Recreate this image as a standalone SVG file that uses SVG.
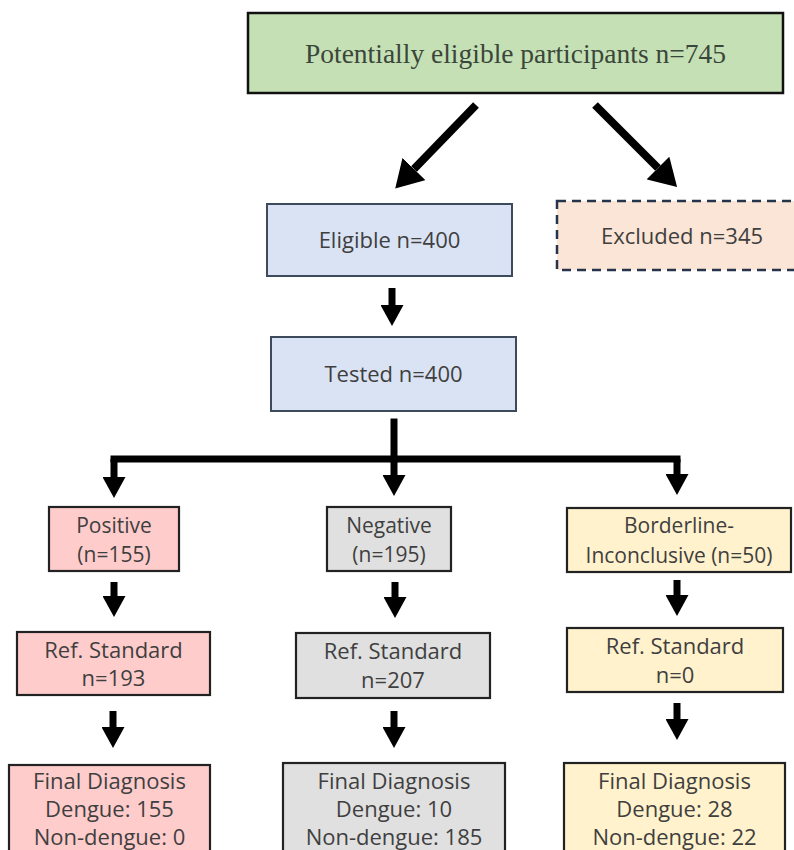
<svg xmlns="http://www.w3.org/2000/svg" width="794" height="850" viewBox="0 0 794 850">
  <style>
    .t { font-family: "Open Sans", "Liberation Sans", sans-serif; font-size: 22px; fill: #3f3f3f; text-anchor: middle; }
    .m { font-size: 21px; }
    .serif { font-family: "Liberation Serif", "Times New Roman", serif; font-size: 27.5px; fill: #3b463b; text-anchor: middle; }
    .blue { fill: #dae3f3; stroke: #3c4a5c; stroke-width: 2; }
    .excl { fill: #fbe5d6; stroke: #25344a; stroke-width: 2.5; stroke-dasharray: 9 6; }
    .pink { fill: #ffcccc; stroke: #222; stroke-width: 2.2; }
    .gray { fill: #e0e0e0; stroke: #222; stroke-width: 2.2; }
    .yel { fill: #fff2cc; stroke: #222; stroke-width: 2.2; }
    .green { fill: #c5e0b4; stroke: #111; stroke-width: 2.5; }
    .arr { stroke: #000; stroke-width: 7; fill: none; marker-end: url(#head); }
    .arrBig { stroke: #000; stroke-width: 8; fill: none; marker-end: url(#headBig); }
    .bar { stroke: #000; stroke-width: 7; fill: none; stroke-linecap: square; }
  </style>
  <defs>
    <marker id="head" markerUnits="userSpaceOnUse" markerWidth="21" markerHeight="23" refX="0" refY="11.5" orient="auto" viewBox="0 0 21 23">
      <path d="M0,0 L21,11.5 L0,23 z" fill="#000"/>
    </marker>
    <marker id="headBig" markerUnits="userSpaceOnUse" markerWidth="27" markerHeight="32" refX="0" refY="16" orient="auto" viewBox="0 0 27 32">
      <path d="M0,0 L27,16 L0,32 z" fill="#000"/>
    </marker>
  </defs>

  <g id="connectors">
    <line class="arrBig" x1="476" y1="105" x2="414" y2="169"/>
    <line class="arrBig" x1="595" y1="105" x2="658" y2="168"/>
    <line class="arr" x1="392" y1="288" x2="392" y2="305"/>
    <line class="bar" x1="394" y1="422" x2="394" y2="459"/>
    <line class="bar" x1="114" y1="459" x2="677" y2="459"/>
    <line class="arr" x1="114" y1="459" x2="114" y2="477"/>
    <line class="arr" x1="394" y1="459" x2="394" y2="475"/>
    <line class="arr" x1="677" y1="459" x2="677" y2="474"/>
    <line class="arr" x1="114" y1="582" x2="114" y2="596"/>
    <line class="arr" x1="395" y1="582" x2="395" y2="597"/>
    <line class="arr" x1="677" y1="580" x2="677" y2="595"/>
    <line class="arr" x1="113" y1="711" x2="113" y2="727"/>
    <line class="arr" x1="394" y1="711" x2="394" y2="727"/>
    <line class="arr" x1="677" y1="703" x2="677" y2="719"/>
  </g>

  <g id="potential">
    <rect class="green" x="248" y="13" width="535" height="80"/>
    <text class="serif" x="515.5" y="63">Potentially eligible participants n=745</text>
  </g>

  <g id="eligible">
    <rect class="blue" x="267" y="204" width="245" height="72"/>
    <text class="t" x="389.5" y="248">Eligible n=400</text>
  </g>

  <g id="excluded">
    <rect class="excl" x="557" y="201" width="250" height="69"/>
    <text class="t" x="682" y="244">Excluded n=345</text>
  </g>

  <g id="tested">
    <rect class="blue" x="271" y="337" width="245" height="74"/>
    <text class="t" x="393.5" y="382">Tested n=400</text>
  </g>

  <g id="positive">
    <rect class="pink" x="49" y="507" width="130" height="64"/>
    <text class="t m" x="114" y="533">Positive</text>
    <text class="t m" x="114" y="562">(n=155)</text>
  </g>

  <g id="negative">
    <rect class="gray" x="327" y="507" width="124" height="64"/>
    <text class="t m" x="389" y="533">Negative</text>
    <text class="t m" x="389" y="562">(n=195)</text>
  </g>

  <g id="borderline">
    <rect class="yel" x="567" y="508" width="224" height="64"/>
    <text class="t m" x="679" y="533">Borderline-</text>
    <text class="t m" x="679" y="563">Inconclusive (n=50)</text>
  </g>

  <g id="ref-positive">
    <rect class="pink" x="17" y="632" width="193" height="63"/>
    <text class="t" x="113.5" y="658">Ref. Standard</text>
    <text class="t" x="113.5" y="686">n=193</text>
  </g>

  <g id="ref-negative">
    <rect class="gray" x="296" y="633" width="194" height="65"/>
    <text class="t" x="393" y="659">Ref. Standard</text>
    <text class="t" x="393" y="688">n=207</text>
  </g>

  <g id="ref-borderline">
    <rect class="yel" x="567" y="628" width="216" height="64"/>
    <text class="t" x="675" y="654">Ref. Standard</text>
    <text class="t" x="675" y="683">n=0</text>
  </g>

  <g id="final-positive">
    <rect class="pink" x="9" y="765" width="201" height="100"/>
    <text class="t" x="109.5" y="789">Final Diagnosis</text>
    <text class="t" x="109.5" y="817">Dengue: 155</text>
    <text class="t" x="109.5" y="845">Non-dengue: 0</text>
  </g>

  <g id="final-negative">
    <rect class="gray" x="283" y="763" width="222" height="100"/>
    <text class="t" x="394" y="789">Final Diagnosis</text>
    <text class="t" x="394" y="817">Dengue: 10</text>
    <text class="t" x="394" y="845">Non-dengue: 185</text>
  </g>

  <g id="final-borderline">
    <rect class="yel" x="564" y="763" width="221" height="100"/>
    <text class="t" x="674.5" y="789">Final Diagnosis</text>
    <text class="t" x="674.5" y="817">Dengue: 28</text>
    <text class="t" x="674.5" y="845">Non-dengue: 22</text>
  </g>
</svg>
